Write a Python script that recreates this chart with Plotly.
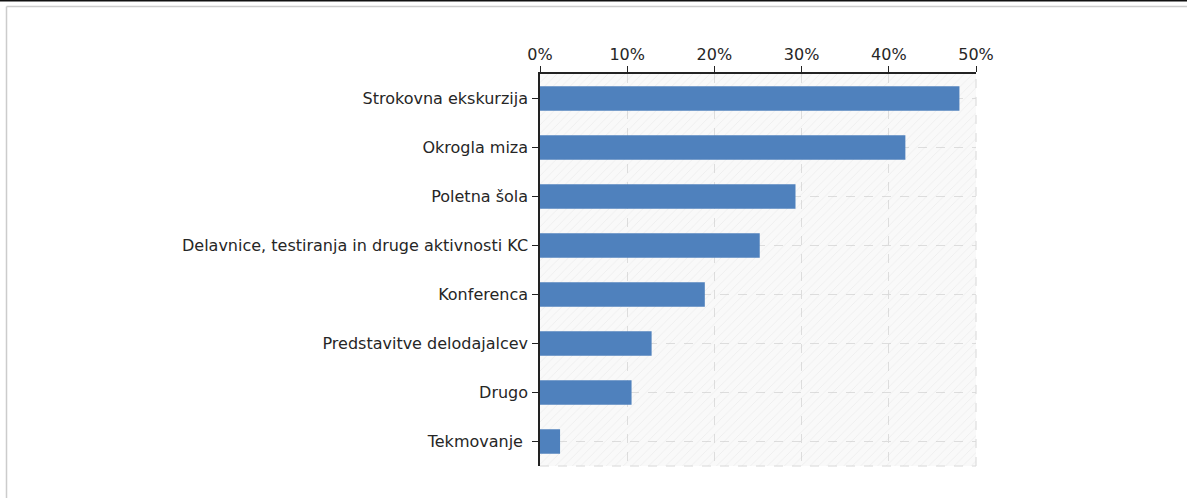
import plotly.graph_objects as go

categories = [
    "Strokovna ekskurzija",
    "Okrogla miza",
    "Poletna šola",
    "Delavnice, testiranja in druge aktivnosti KC",
    "Konferenca",
    "Predstavitve delodajalcev",
    "Drugo",
    "Tekmovanje ",
]
values = [48.1, 41.9, 29.3, 25.2, 18.9, 12.8, 10.5, 2.3]
x_ticks = [0, 10, 20, 30, 40, 50]
x_tick_labels = ["0%", "10%", "20%", "30%", "40%", "50%"]
x_max = 50

font = dict(family="DejaVu Sans, Verdana, sans-serif", size=16, color="#262626")

fig = go.Figure()

# hatched plot background
fig.add_trace(go.Bar(
    x=[x_max], y=[0.5], base=0, width=1, orientation="h",
    xaxis="x", yaxis="y",
    marker=dict(color="rgba(0,0,0,0)", line=dict(width=0),
                pattern=dict(shape="/", fgcolor="rgba(200,200,200,0.45)",
                             bgcolor="rgba(0,0,0,0)", size=6, solidity=0.15)),
    hoverinfo="skip", showlegend=False,
))

fig.add_trace(go.Bar(
    x=values, y=categories, orientation="h",
    xaxis="x", yaxis="y2",
    marker=dict(color="#4f81bd", line=dict(width=0)),
    width=0.5, showlegend=False,
))

fig.update_layout(
    width=1187, height=498,
    margin=dict(l=540, r=211, t=74, b=32),
    paper_bgcolor="white",
    plot_bgcolor="#f9f9f9",
    font=font,
    xaxis=dict(
        side="top", range=[0, x_max], tickvals=x_ticks, ticktext=x_tick_labels,
        showline=True, linecolor="#222222", linewidth=1.5,
        ticks="outside", ticklen=6, tickcolor="#222222",
        showgrid=True, gridcolor="#dddddd", griddash="dash", gridwidth=1,
        zeroline=False, mirror=False, fixedrange=True,
    ),
    yaxis=dict(
        range=[0, 1], visible=False, showgrid=False, zeroline=False,
    ),
    yaxis2=dict(
        overlaying="y", side="left",
        categoryorder="array", categoryarray=categories[::-1],
        range=[-0.5, len(categories) - 0.5],
        showline=True, linecolor="#222222", linewidth=1.5,
        ticks="outside", ticklen=6, tickcolor="#222222",
        showgrid=True, gridcolor="#dddddd", griddash="dash", gridwidth=1,
        zeroline=False, ticklabelstandoff=1,
    ),
    bargap=0.5,
    shapes=[
        # dashed right and bottom plot border
        dict(type="line", xref="paper", yref="paper", x0=1, x1=1, y0=0, y1=1,
             line=dict(color="#d8d8d8", width=1, dash="dash")),
        dict(type="line", xref="paper", yref="paper", x0=0, x1=1, y0=0, y1=0,
             line=dict(color="#d8d8d8", width=1, dash="dash")),
        # outer frame
        dict(type="line", xref="paper", yref="paper", x0=-1.3, x1=1.5,
             y0=(466 - 0.75) / 392, y1=(466 - 0.75) / 392,
             line=dict(color="#111111", width=1.5)),
        dict(type="line", xref="paper", yref="paper", x0=(6.5 - 540) / 436, x1=1.5,
             y0=(466 - 6.5) / 392, y1=(466 - 6.5) / 392,
             line=dict(color="#cccccc", width=1.5)),
        dict(type="line", xref="paper", yref="paper", x0=(6.5 - 540) / 436, x1=(6.5 - 540) / 436,
             y0=(466 - 6.5) / 392, y1=-0.2,
             line=dict(color="#cccccc", width=1.5)),
    ],
)

fig.write_html("out.html", config={"displayModeBar": False},
               post_script="document.body.style.margin='0';")
